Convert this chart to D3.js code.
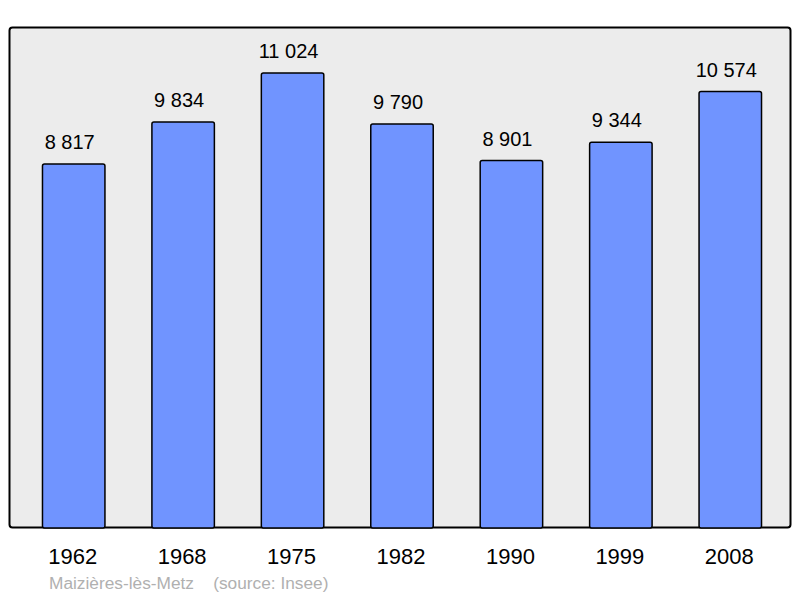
<!DOCTYPE html>
<html>
<head>
<meta charset="utf-8">
<script src="https://cdn.jsdelivr.net/npm/d3@7.9.0/dist/d3.min.js"></script>
<style>
  body { margin: 0; background: #fff; }
  svg { display: block; font-family: "Liberation Sans", Arial, sans-serif; }
</style>
</head>
<body>
<svg id="chart" width="800" height="598"></svg>
<script>
// population by census year
const years = ['1962', '1968', '1975', '1982', '1990', '1999', '2008'];
const population = [8817, 9834, 11024, 9790, 8901, 9344, 10574];
const place = 'Maizières-lès-Metz';
const source = '(source: Insee)';

const svg = d3.select('#chart');

// grey panel
svg.append('rect')
  .attr('x', 9.5).attr('y', 27.5)
  .attr('width', 781).attr('height', 500)
  .attr('rx', 3)
  .attr('fill', '#ececec')
  .attr('stroke', '#000')
  .attr('stroke-width', 2);

const x = d3.scaleBand()
  .domain(years)
  .range([19, 785])
  .paddingInner(0.42)
  .paddingOuter(0.21);

const y = d3.scaleLinear()
  .domain([0, 11024])
  .range([528, 73]);

const fmt = v => d3.format(',')(v).replace(',', ' ');

const bars = svg.append('g')
  .selectAll('g')
  .data(years.map((yr, i) => ({ year: yr, value: population[i] })))
  .join('g');

bars.append('rect')
  .attr('x', d => x(d.year) + 0.5)
  .attr('y', d => y(d.value))
  .attr('width', x.bandwidth() - 1)
  .attr('height', d => y(0) - y(d.value))
  .attr('rx', 2)
  .attr('fill', '#7094ff')
  .attr('stroke', '#000')
  .attr('stroke-width', 1.5);

bars.append('text')
  .attr('x', d => x(d.year) + x.bandwidth() / 2 - 4)
  .attr('y', d => y(d.value) - 15)
  .attr('text-anchor', 'middle')
  .attr('font-size', 20)
  .attr('fill', '#000')
  .text(d => fmt(d.value));

bars.append('text')
  .attr('x', d => x(d.year) + x.bandwidth() / 2 - 1)
  .attr('y', 564)
  .attr('text-anchor', 'middle')
  .attr('font-size', 22)
  .attr('fill', '#000')
  .text(d => d.year);

svg.append('text')
  .attr('x', 49).attr('y', 589)
  .attr('font-size', 17.3)
  .attr('fill', '#b0b0b0')
  .attr('xml:space', 'preserve')
  .style('white-space', 'pre')
  .text(place + '    ' + source);
</script>
</body>
</html>
